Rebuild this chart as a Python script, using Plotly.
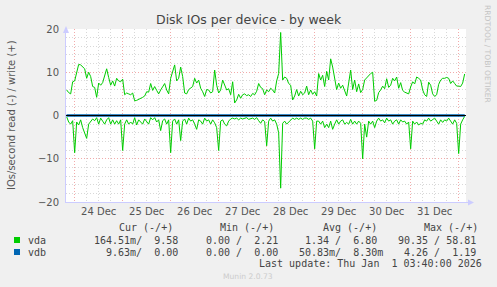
import pandas as pd
import plotly.graph_objects as go

# ---------------- data (hourly samples, IOs/second) ----------------
start_time = "2025-12-23 20:00"
range_start = "2025-12-23 19:40"
range_end = "2026-01-01 03:40"

vda_write = [
    5.9, 5.3, 5.0, 7.8, 8.0, 10.0, 11.8, 11.7, 11.3, 10.8,
    8.6, 10.0, 9.0, 6.7, 6.5, 4.2, 7.5, 7.0, 7.6, 9.0,
    10.8, 8.8, 7.0, 8.0, 6.8, 8.6, 8.0, 7.8, 8.4, 4.8,
    5.2, 5.0, 4.8, 5.2, 3.4, 3.5, 3.7, 4.0, 4.2, 4.5,
    5.5, 5.4, 7.4, 5.8, 6.7, 5.8, 5.0, 5.9, 6.8, 7.4,
    5.9,
    5.0, 8.6, 10.0, 11.7, 8.0, 8.6, 11.2, 9.0, 5.2, 5.0,
    6.0, 6.3, 6.7, 8.6, 7.5, 8.2, 6.3, 5.5, 4.4, 6.0,
    5.9, 5.2, 5.5, 10.5, 7.0, 5.2, 5.9, 8.2, 6.8, 5.9,
    6.2, 4.8, 7.8, 2.9, 3.6, 4.9, 4.0, 4.8, 5.0, 4.6,
    4.8, 4.4, 5.1, 4.8, 5.6, 7.4, 6.5, 6.2, 4.8, 5.9,
    5.5, 6.3, 5.9, 5.2, 8.0, 9.7, 19.2, 8.2, 8.9, 8.6,
    7.4, 7.0, 3.6, 4.5, 6.0, 4.5, 5.6, 4.8, 5.2, 6.8,
    4.8, 5.9, 4.9, 5.5, 4.5, 9.7, 8.2, 9.3, 6.7, 10.2,
    8.2, 13.1, 11.2, 8.0, 6.0, 7.5, 6.3, 7.0, 5.9, 4.5,
    7.5, 10.5, 6.0, 8.2, 5.5, 7.3, 5.3, 6.0, 8.2, 8.7,
    9.3, 9.7, 10.0, 3.3, 3.5, 5.3, 5.9, 6.8, 6.2, 8.5,
    6.5, 7.0, 8.6, 8.0, 8.9, 6.3, 7.6, 5.8, 5.4, 5.2,
    5.0, 6.6, 7.8, 7.3, 8.9, 8.6, 8.2, 5.9, 4.8, 4.4,
    7.7, 7.0, 5.0, 4.4, 4.8, 7.2, 8.2, 8.6, 8.6, 8.8,
    8.6, 7.4, 8.0, 7.4, 6.8, 6.8, 6.7, 7.5, 9.6,
]

vda_read = [
    0.3, 1.5, 2.0, 1.2, 8.6, 1.5, 2.2, 1.0, 2.8, 4.3,
    5.3, 2.0, 1.5, 0.8, 1.2, 0.5, 2.0, 0.6, 1.3, 2.0,
    1.0, 0.5, 2.0, 1.0, 2.0, 1.2, 2.0, 1.0, 8.1, 2.0,
    1.0, 2.0, 1.5, 2.0, 0.5, 2.2, 1.0, 1.5, 2.0, 0.8,
    1.5, 2.0, 0.5, 1.0, 0.5, 1.5, 1.0, 3.5, 1.2, 0.8,
    2.0,
    1.0, 8.6, 1.3, 0.8, 2.0, 1.0, 5.8, 1.3, 0.8, 2.0,
    0.6, 1.3, 1.0, 2.0, 3.2, 1.0, 1.3, 2.0, 0.6, 1.3,
    1.0, 2.0, 1.0, 1.7, 2.8, 8.1, 1.3, 1.0, 2.0, 2.4,
    1.3, 0.8, 0.6, 0.8, 0.6, 1.0, 0.6, 0.8, 0.6, 0.5,
    0.9, 0.8, 0.6, 0.9, 0.5, 1.2, 1.8, 1.0, 1.4, 7.0,
    1.3, 0.6, 1.3, 1.0, 2.0, 4.0, 16.8, 1.8, 1.3, 2.0,
    1.5, 1.0, 0.6, 0.9, 0.6, 0.9, 0.6, 0.9, 0.6, 0.6,
    0.9, 0.6, 1.3, 7.7, 1.3, 1.3, 2.0, 1.3, 2.8, 2.0,
    2.8, 1.3, 3.2, 2.0, 1.0, 2.0, 1.3, 1.0, 2.0, 1.6,
    2.0, 0.9, 2.0, 1.3, 2.0, 1.3, 1.8, 10.0, 2.0, 5.0,
    1.3, 2.0, 1.3, 2.8, 1.3, 0.6, 1.3, 1.0, 1.7, 0.6,
    1.3, 1.0, 2.0, 1.3, 1.0, 2.0, 1.0, 1.5, 1.3, 2.0,
    1.5, 7.7, 1.3, 2.0, 1.5, 2.2, 1.8, 2.0, 1.0, 1.3,
    0.6, 1.3, 1.0, 0.6, 1.3, 2.0, 1.0, 1.6, 1.0, 1.3,
    0.6, 1.3, 2.0, 1.0, 1.8, 8.8, 2.0, 1.0, 0.2,
]

vdb_times = ["2025-12-23 20:00", "2025-12-24 20:00", "2025-12-25 20:00",
             "2025-12-26 20:00", "2025-12-27 20:00", "2025-12-28 20:00",
             "2025-12-29 20:00", "2025-12-30 20:00", "2026-01-01 03:00"]
vdb_write = [0.0, 0.0, 0.0, 0.0, 0.0, 0.0, 0.0, 0.0, 0.0]
vdb_read = [0.0, 0.0, 0.0, 0.0, 0.0, 0.0, 0.0, 0.0, 0.0]

legend_header = ["Cur (-/+)", "Min (-/+)", "Avg (-/+)", "Max (-/+)"]
legend_rows = [
    ("vda", "#00CC00", ["164.51m/  9.58", "0.00 /  2.21", "1.34 /  6.80", "90.35 / 58.81"]),
    ("vdb", "#0066B3", ["9.63m/  0.00", "0.00 /  0.00", "50.83m/  8.30m", "4.26 /  1.19"]),
]
title_text = "Disk IOs per device - by week"
ylabel_text = "IOs/second read (-) / write (+)"
last_update = "Last update: Thu Jan  1 03:40:00 2026"
munin_text = "Munin 2.0.73"
watermark = "RRDTOOL / TOBI OETIKER"

# ---------------- figure ----------------
times = pd.date_range(start_time, periods=len(vda_write), freq="h")

W, H = 497, 287
L, T, PW, PH = 66, 29, 400, 173
R = W - L - PW
B = H - T - PH


def px(x):
    return (x - L) / PW


def py(y):
    return (T + PH - y) / PH


GREEN = "#00CC00"
BLUE = "#0066B3"
TXT = "#555555"
MONO = "DejaVu Sans Mono"
SANS = "DejaVu Sans"
MAJOR = "#F2AAAA"
MINOR = "#D8D8D8"
DASH = "1px,2px"

fig = go.Figure()
fig.add_trace(go.Scatter(x=times, y=[-v for v in vda_read], mode="lines",
                         line=dict(color=GREEN, width=1), hoverinfo="skip"))
fig.add_trace(go.Scatter(x=times, y=vda_write, mode="lines",
                         line=dict(color=GREEN, width=1), hoverinfo="skip"))
fig.add_trace(go.Scatter(x=vdb_times, y=[-v for v in vdb_read], mode="lines",
                         line=dict(color=BLUE, width=2), hoverinfo="skip"))
fig.add_trace(go.Scatter(x=vdb_times, y=vdb_write, mode="lines",
                         line=dict(color=BLUE, width=2), hoverinfo="skip"))

fig.update_layout(
    width=W, height=H, autosize=False,
    margin=dict(l=L, r=R, t=T, b=B, pad=0),
    paper_bgcolor="#F0F0F0", plot_bgcolor="#FFFFFF",
    showlegend=False,
    xaxis=dict(
        type="date", range=[range_start, range_end],
        tick0="2025-12-24", dtick=86400000, ticklabelmode="period",
        tickformat="%d %b", ticks="",
        showgrid=True, gridcolor=MAJOR, griddash=DASH, gridwidth=1,
        minor=dict(dtick=21600000, showgrid=True, gridcolor=MINOR,
                   griddash=DASH, gridwidth=1),
        showline=True, linecolor="#CCCCFF", linewidth=1,
        tickfont=dict(family=SANS, size=10, color=TXT),
        zeroline=False, fixedrange=True,
    ),
    yaxis=dict(
        range=[-20, 20], dtick=10, ticks="",
        showgrid=True, gridcolor=MAJOR, griddash=DASH, gridwidth=1,
        minor=dict(dtick=2, showgrid=True, gridcolor=MINOR,
                   griddash=DASH, gridwidth=1),
        showline=True, linecolor="#CCCCFF", linewidth=1,
        tickfont=dict(family=SANS, size=10, color=TXT),
        ticklabelstandoff=4,
        zeroline=False, fixedrange=True,
    ),
)

shapes = [
    # zero line
    dict(type="line", xref="paper", yref="y", x0=0, x1=1, y0=0, y1=0,
         line=dict(color="#000000", width=1), layer="above"),
    # axis arrows
    dict(type="path", xref="paper", yref="paper",
         path=f"M {px(66)} {py(26)} L {px(63)} {py(33)} L {px(69)} {py(33)} Z",
         fillcolor="#CCCCFF", line=dict(width=0), layer="above"),
    dict(type="path", xref="paper", yref="paper",
         path=f"M {px(474)} {py(202.5)} L {px(468)} {py(199.5)} L {px(468)} {py(205.5)} Z",
         fillcolor="#CCCCFF", line=dict(width=0), layer="above"),
    dict(type="line", xref="paper", yref="paper", x0=1, x1=px(469),
         y0=py(202.5), y1=py(202.5), line=dict(color="#CCCCFF", width=1)),
]
for i, (name, col, vals) in enumerate(legend_rows):
    yc = 240 + 12 * i
    shapes.append(dict(type="rect", xref="paper", yref="paper",
                       x0=px(14), x1=px(20), y0=py(yc - 3), y1=py(yc + 3),
                       fillcolor=col, line=dict(width=0)))
fig.update_layout(shapes=shapes)

NB = "\u00a0"
ann = []
ann.append(dict(text=title_text, x=px(248.5), y=py(19.5), xanchor="center", yanchor="middle",
                font=dict(family=SANS, size=12.5, color="#444444")))
ann.append(dict(text=ylabel_text, x=px(11), y=py(115), xanchor="center", yanchor="middle",
                textangle=-90, font=dict(family=SANS, size=10, color=TXT)))
ann.append(dict(text=watermark, x=px(488), y=py(54), xanchor="center", yanchor="middle",
                textangle=90, font=dict(family=SANS, size=7.6, color="#C4C4C4")))
header_x = [116.5, 217.5, 320.5, 422]
for hx, htxt in zip(header_x, legend_header):
    ann.append(dict(text=htxt.replace(" ", NB), x=px(hx), y=py(227.5), xanchor="left",
                    yanchor="middle", font=dict(family=MONO, size=10, color="#444444")))
col_right = [180, 280, 379, 477.5]
for i, (name, col, vals) in enumerate(legend_rows):
    yc = 240 + 12 * i
    ann.append(dict(text=name, x=px(25.5), y=py(yc), xanchor="left", yanchor="middle",
                    font=dict(family=MONO, size=10, color="#444444")))
    for cx, v in zip(col_right, vals):
        adj = 6 if v.endswith("m") else 0
        ann.append(dict(text=v.replace(" ", NB), x=px(cx + adj), y=py(yc), xanchor="right",
                        yanchor="middle", font=dict(family=MONO, size=10, color="#444444")))
ann.append(dict(text=last_update.replace(" ", NB), x=px(484), y=py(263.5), xanchor="right",
                yanchor="middle", font=dict(family=MONO, size=10, color="#444444")))
ann.append(dict(text=munin_text, x=px(248), y=py(276), xanchor="center", yanchor="middle",
                font=dict(family=SANS, size=7.6, color="#CCCCCC")))
for a in ann:
    a.update(xref="paper", yref="paper", showarrow=False)
fig.update_layout(annotations=ann)

fig.write_html("out.html", config={"displayModeBar": False})
